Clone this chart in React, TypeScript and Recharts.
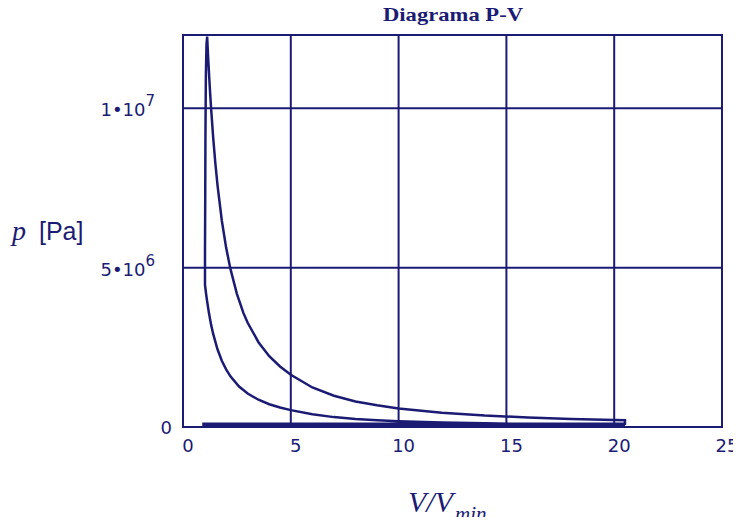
import { LineChart, Line, XAxis, YAxis, CartesianGrid, ReferenceArea } from 'recharts';

// relative volume V/Vmin and pressure [Pa], read along the cycle path
const compressionV = [20.5, 18, 16, 14, 12, 10, 9, 8, 7, 6, 5, 4.5, 4, 3.5, 3, 2.6, 2.2, 2.0, 1.8, 1.6, 1.4, 1.3, 1.2, 1.1, 1.05, 1.02];
const compressionP = [0.07e6, 0.08e6, 0.095e6, 0.115e6, 0.14e6, 0.18e6, 0.21e6, 0.25e6, 0.31e6, 0.4e6, 0.53e6, 0.61e6, 0.715e6, 0.855e6, 1.05e6, 1.27e6, 1.59e6, 1.81e6, 2.08e6, 2.44e6, 2.92e6, 3.22e6, 3.59e6, 4.03e6, 4.29e6, 4.46e6];

const combustionV = [1.02, 1.03, 1.04, 1.06, 1.09, 1.12];
const combustionP = [5.5e6, 7.0e6, 9.0e6, 11.0e6, 12.0e6, 12.25e6];

const expansionV = [1.16, 1.2, 1.25, 1.3, 1.4, 1.5, 1.6, 1.8, 2.0, 2.2, 2.5, 2.8, 3, 3.5, 4, 4.5, 5, 6, 7, 8, 9, 10, 12, 14, 16, 18, 20.5];
const expansionP = [11.67e6, 11.17e6, 10.57e6, 10.03e6, 9.08e6, 8.28e6, 7.59e6, 6.48e6, 5.63e6, 4.96e6, 4.18e6, 3.58e6, 3.27e6, 2.66e6, 2.22e6, 1.9e6, 1.64e6, 1.24e6, 0.98e6, 0.8e6, 0.68e6, 0.58e6, 0.45e6, 0.36e6, 0.3e6, 0.25e6, 0.21e6];

const exchangeV = [20.5, 20.5, 0.95, 0.95, 20.5];
const exchangeP = [0.11e6, 0.1e6, 0.1e6, 0.05e6, 0.05e6];

const xTicks = [0, 5, 10, 15, 20, 25];
const yTicks = [0, 5e6, 1e7];
const yTickMantissa = ['0', '5', '1'];
const yTickExponent = ['', '6', '7'];

const NAVY = '#1b1b74';

const cycle = [
  ...compressionV.map((v, i) => ({ v, p: compressionP[i] })),
  ...combustionV.map((v, i) => ({ v, p: combustionP[i] })),
  ...expansionV.map((v, i) => ({ v, p: expansionP[i] })),
  ...exchangeV.map((v, i) => ({ v, p: exchangeP[i] })),
];

function XTick(props: any) {
  const { x, y, payload } = props;
  return (
    <text x={x + 5} y={y + 25} textAnchor="middle" fill={NAVY} fontFamily="DejaVu Sans" fontSize={18}>
      {payload.value}
    </text>
  );
}

function YTick(props: any) {
  const { x, y, index } = props;
  if (index === 0) {
    return (
      <text x={x - 11} y={y + 7} textAnchor="end" fill={NAVY} fontFamily="DejaVu Sans" fontSize={18}>
        0
      </text>
    );
  }
  return (
    <text x={x - 28} y={y + 8} textAnchor="end" fill={NAVY} fontFamily="DejaVu Sans" fontSize={18}>
      {yTickMantissa[index]}•10
      <tspan dy={-10} fontSize={15}>{yTickExponent[index]}</tspan>
    </text>
  );
}

export default function App() {
  return (
    <div style={{ position: 'relative', width: 741, height: 525, margin: -8 }}>
      <LineChart width={741} height={525} data={cycle} margin={{ top: 35, right: 19, left: 0, bottom: 68 }}>
        <CartesianGrid stroke={NAVY} strokeWidth={2} />
        <XAxis
          dataKey="v"
          type="number"
          domain={[0, 25]}
          ticks={xTicks}
          height={30}
          tickSize={0}
          tickMargin={0}
          axisLine={{ stroke: NAVY, strokeWidth: 2 }}
          tickLine={false}
          tick={<XTick />}
        />
        <YAxis
          type="number"
          domain={[0, 12.3e6]}
          ticks={yTicks}
          width={183}
          tickSize={0}
          tickMargin={0}
          axisLine={{ stroke: NAVY, strokeWidth: 2 }}
          tickLine={false}
          tick={<YTick />}
          allowDataOverflow
        />
        <ReferenceArea x1={0} x2={25} y1={0} y2={12.3e6} fill="none" stroke={NAVY} strokeWidth={2} ifOverflow="visible" />
        <Line type="linear" dataKey="p" stroke={NAVY} strokeWidth={2.5} dot={false} isAnimationActive={false} />
      </LineChart>
      <svg width={741} height={525} style={{ position: 'absolute', left: 0, top: 0, pointerEvents: 'none' }}>
        <text x={453} y={21} textAnchor="middle" fill={NAVY} fontFamily="Liberation Serif" fontWeight="bold" fontSize={19} textLength={140} lengthAdjust="spacingAndGlyphs">
          Diagrama P-V
        </text>
        <text x={12} y={240} fill={NAVY} fontFamily="Liberation Serif" fontStyle="italic" fontSize={28}>p</text>
        <text x={39} y={240} fill={NAVY} fontFamily="Liberation Sans" fontSize={25}>[Pa]</text>
        <text x={408} y={512} fill={NAVY} fontFamily="Liberation Serif" fontStyle="italic" fontSize={30}>V/V</text>
        <text x={455} y={521} fill={NAVY} fontFamily="Liberation Serif" fontStyle="italic" fontSize={21}>min</text>
      </svg>
    </div>
  );
}
